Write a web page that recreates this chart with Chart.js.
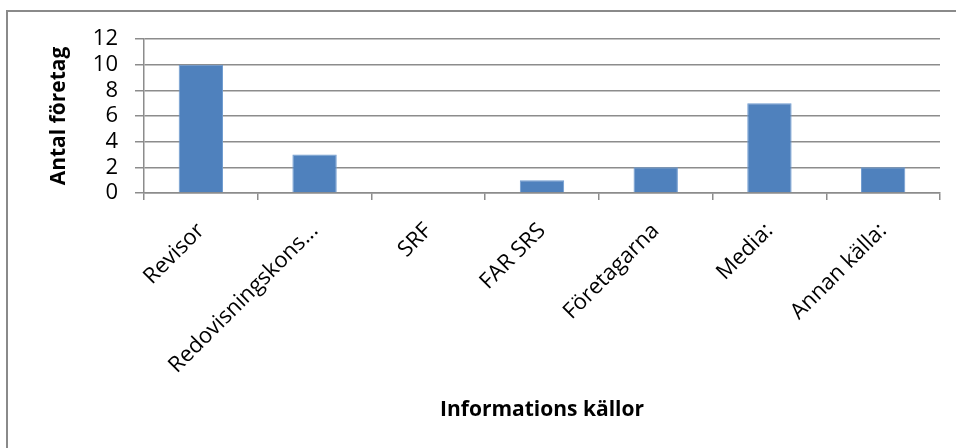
<!DOCTYPE html>
<html>
<head>
<meta charset="utf-8">
<script src="https://cdn.jsdelivr.net/npm/chart.js@4.4.1/dist/chart.umd.min.js"></script>
<style>
  html, body { margin: 0; padding: 0; background: #fff; }
  #wrap { position: relative; width: 956px; height: 448px; }
  canvas { display: block; }
</style>
</head>
<body>
<div id="wrap"><canvas id="c" width="956" height="448"></canvas></div>
<script>
// Informationskällor och antal företag som angett respektive källa
const categories = ['Revisor', 'Redovisningskons...', 'SRF', 'FAR SRS', 'Företagarna', 'Media:', 'Annan källa:'];
const antalForetag = [10, 3, 0, 1, 2, 7, 2];
const yTicks = [0, 2, 4, 6, 8, 10, 12];

const FONT = "'Open Sans', 'Liberation Sans', sans-serif";
const GRAY = '#8c8c8c';

// Frame line along the top and left edge of the chart object
const framePlugin = {
  id: 'frame',
  beforeDraw(chart) {
    const ctx = chart.ctx;
    ctx.save();
    ctx.strokeStyle = '#8a8a8a';
    ctx.lineWidth = 2;
    ctx.beginPath();
    ctx.moveTo(7, 448);
    ctx.lineTo(7, 11);
    ctx.lineTo(956, 11);
    ctx.stroke();
    ctx.restore();
  }
};

new Chart(document.getElementById('c'), {
  type: 'bar',
  data: {
    labels: categories,
    datasets: [{
      data: antalForetag,
      backgroundColor: '#4f81bd',
      borderColor: '#6f9bd0',
      borderWidth: 1,
      barPercentage: 0.39,
      categoryPercentage: 1.0
    }]
  },
  options: {
    responsive: false,
    animation: false,
    layout: { padding: { left: 0, top: 39, right: 16, bottom: 0 } },
    plugins: { legend: { display: false }, tooltip: { enabled: false } },
    scales: {
      x: {
        grid: { display: true, drawOnChartArea: false, color: GRAY, lineWidth: 1.5, tickLength: 7, offset: true },
        border: { display: true, color: GRAY, width: 1.5 },
        ticks: {
          autoSkip: false, maxRotation: 45, minRotation: 45,
          color: '#000', font: { family: FONT, size: 22 }, padding: 18
        },
        title: {
          display: true, text: 'Informations källor', color: '#000',
          font: { family: FONT, size: 21, weight: 'bold' },
          padding: { top: 0, bottom: 25 }
        },
        afterFit(scale) { scale.height = 255; }
      },
      y: {
        min: 0, max: 12,
        afterBuildTicks(scale) { scale.ticks = yTicks.map(v => ({ value: v })); },
        grid: { color: GRAY, lineWidth: 1.5, tickLength: 9 },
        border: { display: true, color: GRAY, width: 1.5 },
        ticks: { autoSkip: false, color: '#000', font: { family: FONT, size: 22 }, padding: 17 },
        title: {
          display: true, text: 'Antal företag', color: '#000',
          font: { family: FONT, size: 21, weight: 'bold' },
          padding: { top: 46, bottom: 0 }
        },
        afterFit(scale) { scale.width = 144; }
      }
    }
  },
  plugins: [framePlugin]
});
</script>
</body>
</html>
